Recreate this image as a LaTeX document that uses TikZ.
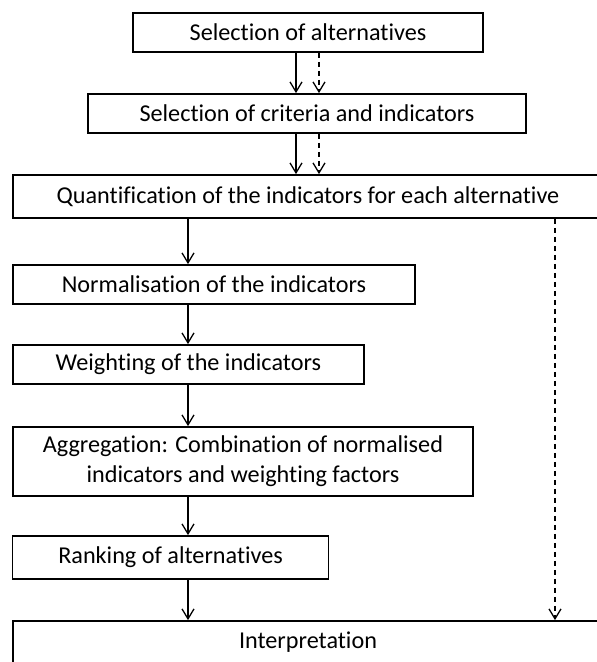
\documentclass[tikz,border=0pt]{standalone}
\usepackage{fontspec}
\setmainfont[RawFeature={-liga}]{Carlito}
\usetikzlibrary{arrows.meta}
\begin{document}
\begin{tikzpicture}[x=1pt,y=-1pt,
  box/.style={draw, line width=1.7pt, inner sep=0pt, align=center,
    font=\fontsize{24.2}{30}\selectfont},
  flow/.style={line width=1.3pt,
    -{Straight Barb[length=10pt,width=12pt,line width=1.3pt]}},
  feedback/.style={flow, dash pattern=on 5pt off 4pt}]
\clip (0,0) rectangle (597,662);

% process steps
\node[box, minimum width=350pt, minimum height=39pt] (b1) at (308,32.5) {Selection of alternatives};
\node[box, minimum width=438pt, minimum height=39pt] (b2) at (307,113.5) {Selection of criteria and indicators};
\node[box, minimum width=590pt, minimum height=43pt] (b3) at (308,196.5) {Quantification of the indicators for each alternative};
\node[box, minimum width=402pt, minimum height=39pt] (b4) at (214,284.5) {Normalisation of the indicators};
\node[box, minimum width=351pt, minimum height=39pt] (b5) at (188.4,364.5) {Weighting of the indicators};
\node[box, minimum width=460pt, minimum height=69pt] (b6) at (243,461.5) {Aggregation: Combination of normalised\\indicators and weighting factors};
\node[box, minimum width=316pt, minimum height=43pt] (b7) at (170.6,557.5) {Ranking of alternatives};
\node[box, minimum width=590pt, minimum height=43pt] (b8) at (308,642.5) {Interpretation};

% columns for the connectors
\coordinate (xs) at (296,0);
\coordinate (xd) at (319,0);
\coordinate (xm) at (188,0);
\coordinate (xr) at (555,0);

\draw[flow] (b1.south -| xs) -- (b2.north -| xs);
\draw[feedback] (b1.south -| xd) -- (b2.north -| xd);
\draw[flow] (b2.south -| xs) -- (b3.north -| xs);
\draw[feedback] (b2.south -| xd) -- (b3.north -| xd);

\draw[flow] (b3.south -| xm) -- (b4.north -| xm);
\draw[flow] (b4.south -| xm) -- (b5.north -| xm);
\draw[flow] (b5.south -| xm) -- (b6.north -| xm);
\draw[flow] (b6.south -| xm) -- (b7.north -| xm);
\draw[flow] (b7.south -| xm) -- (b8.north -| xm);

\draw[feedback] (b3.south -| xr) -- (b8.north -| xr);
\end{tikzpicture}
\end{document}
